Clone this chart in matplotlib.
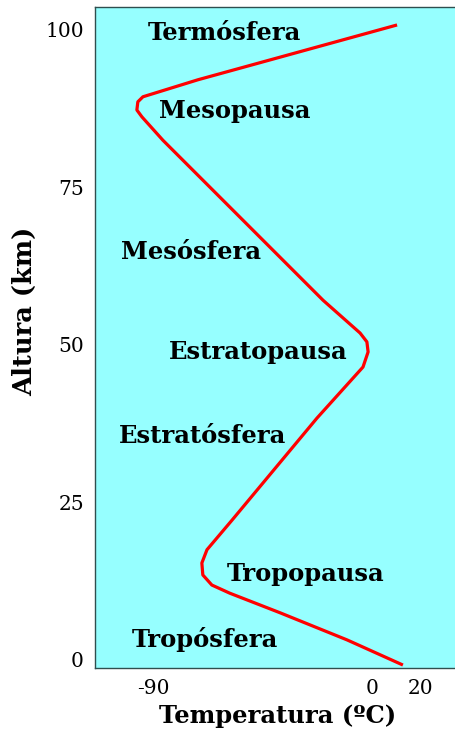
import matplotlib
matplotlib.use("Agg")
import matplotlib.pyplot as plt

plt.rcParams["axes.unicode_minus"] = False

# Temperature profile of the atmosphere
temperature = [12.7, -10.3, -37.8, -58.4, -65.8, -69.5, -69.9, -67.8, -57.5, -22.6,
               -3.7, -1.6, -2.1, -4.9, -20.1, -85.9, -94.5, -96.6, -96.2, -94.1, -71.5, 10.3]
altitude = [-0.8, 3.2, 7.5, 10.6, 11.9, 13.5, 15.4, 17.5, 22.2, 38.4,
            46.5, 48.9, 50.5, 51.9, 57.1, 82.5, 86.2, 87.3, 88.6, 89.4, 92.1, 100.8]

layer_names = ["Termósfera", "Mesopausa", "Mesósfera", "Estratopausa",
               "Estratósfera", "Tropopausa", "Tropósfera"]
layer_temp = [-60.8, -56.3, -74.4, -46.9, -69.5, -27.1, -68.6]
layer_alt = [99.5, 87.1, 64.8, 48.9, 35.6, 13.7, 3.2]

x_ticks = [-90, 0, 20]
y_ticks = [0, 25, 50, 75, 100]

fig = plt.figure(figsize=(4.55, 7.29), dpi=100)
ax = fig.add_axes([95/455, 61/729, 360/455, 661/729])
ax.set_facecolor("#96ffff")

ax.plot(temperature, altitude, color="#ff0000", lw=2.3, solid_joinstyle="round",
        solid_capstyle="butt")

for name, t, a in zip(layer_names, layer_temp, layer_alt):
    ax.text(t, a, name, ha="center", va="center", fontsize=17.5,
            fontweight="bold", family="DejaVu Serif", color="black")

ax.set_xlim(-113.8, 34.1)
ax.set_ylim(-1.27, 103.65)
ax.set_xticks(x_ticks)
ax.set_yticks(y_ticks)
ax.tick_params(length=0, labelsize=14.5, pad=8)
for lab in ax.get_xticklabels() + ax.get_yticklabels():
    lab.set_family("DejaVu Serif")

for s in ["left", "top", "bottom"]:
    ax.spines[s].set_color("#2f4f4f")
    ax.spines[s].set_linewidth(1.0)
ax.spines["right"].set_visible(False)

ax.set_xlabel("Temperatura (ºC)", fontsize=17.5, fontweight="bold",
              family="DejaVu Serif", va="center")
ax.xaxis.set_label_coords(0.506, -0.0726)
ax.set_ylabel("Altura (km)", fontsize=18.5, fontweight="bold",
              family="DejaVu Serif", va="center")
ax.yaxis.set_label_coords(-0.197, 0.539)

fig.savefig("out.png", dpi=100)
